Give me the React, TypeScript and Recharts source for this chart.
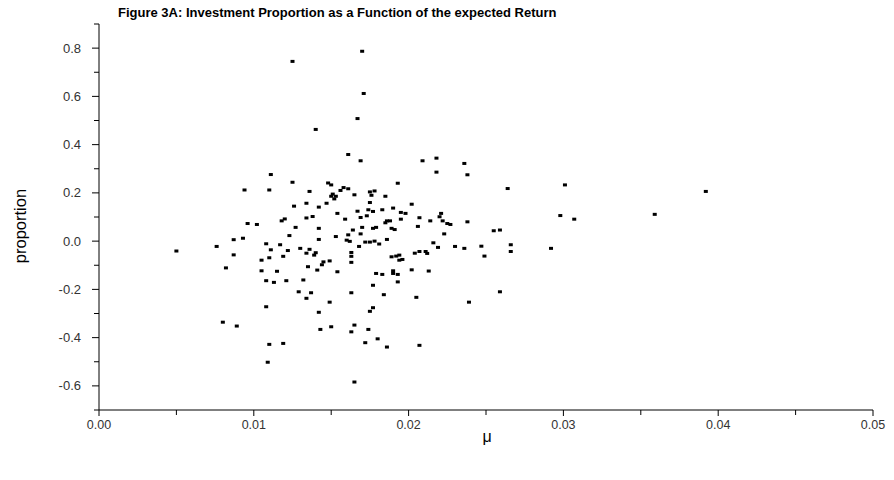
import { ScatterChart, Scatter, XAxis, YAxis } from 'recharts'

// expected return (mu) of each asset
const muValues = [
  0.0125, 0.0140, 0.0170, 0.0171, 0.0167, 0.0161, 0.0169, 0.0111, 0.0125, 0.0094,
  0.0110, 0.0136, 0.0134, 0.0126, 0.0134, 0.0096, 0.0102, 0.0118, 0.0120, 0.0127,
  0.0123, 0.0087, 0.0093, 0.0076, 0.0108, 0.0117, 0.0111, 0.0122, 0.0130, 0.0134,
  0.0136, 0.0087, 0.0110, 0.0119, 0.0105, 0.0082, 0.0135, 0.0105, 0.0115, 0.0108,
  0.0113, 0.0121, 0.0132, 0.0129, 0.0134, 0.0108, 0.0080, 0.0089, 0.0110, 0.0119,
  0.0109, 0.0143, 0.0150, 0.0165, 0.0163, 0.0174, 0.0180, 0.0172, 0.0186, 0.0207,
  0.0165, 0.0050,
  0.0148, 0.0150, 0.0158, 0.0161, 0.0156, 0.0193, 0.0175, 0.0178, 0.0165, 0.0185,
  0.0176, 0.0151, 0.0150, 0.0153, 0.0152, 0.0147, 0.0175, 0.0202, 0.0142, 0.0154,
  0.0167, 0.0174, 0.0177, 0.0183, 0.0190, 0.0195, 0.0198, 0.0138, 0.0159, 0.0169,
  0.0173, 0.0195, 0.0186, 0.0188, 0.0185, 0.0142, 0.0164, 0.0170, 0.0177, 0.0179,
  0.0189, 0.0191, 0.0206, 0.0207, 0.0153, 0.0161, 0.0169, 0.0142,
  0.0160, 0.0162, 0.0172, 0.0175, 0.0178, 0.0181, 0.0186, 0.0168, 0.0140, 0.0139,
  0.0163, 0.0163, 0.0145, 0.0149, 0.0144, 0.0163, 0.0141, 0.0154, 0.0189, 0.0192,
  0.0194, 0.0194, 0.0196, 0.0204, 0.0207, 0.0179, 0.0183, 0.0190, 0.0190, 0.0193,
  0.0202, 0.0193, 0.0177, 0.0137, 0.0163, 0.0184, 0.0205, 0.0149, 0.0177, 0.0175,
  0.0142,
  0.0209, 0.0218, 0.0236, 0.0218, 0.0238, 0.0264, 0.0221, 0.0220, 0.0214, 0.0222,
  0.0225, 0.0227, 0.0238, 0.0223, 0.0255, 0.0259, 0.0298, 0.0301, 0.0392, 0.0359,
  0.0307, 0.0247, 0.0266, 0.0266, 0.0292, 0.0249, 0.0259, 0.0216, 0.0219, 0.0211,
  0.0212, 0.0230, 0.0236, 0.0213, 0.0239,
]

// investment proportion, same order as muValues
const proportionValues = [
  0.745, 0.463, 0.787, 0.612, 0.508, 0.359, 0.333, 0.276, 0.244, 0.212,
  0.212, 0.206, 0.157, 0.145, 0.096, 0.073, 0.069, 0.084, 0.092, 0.057,
  0.023, 0.006, 0.012, -0.022, -0.011, -0.015, -0.036, -0.039, -0.030, -0.050,
  -0.034, -0.057, -0.069, -0.063, -0.079, -0.111, -0.106, -0.123, -0.125, -0.164,
  -0.171, -0.164, -0.161, -0.210, -0.237, -0.272, -0.336, -0.352, -0.428, -0.424,
  -0.502, -0.366, -0.355, -0.348, -0.376, -0.366, -0.405, -0.421, -0.439, -0.432,
  -0.584, -0.041,
  0.241, 0.233, 0.222, 0.217, 0.210, 0.240, 0.204, 0.208, 0.192, 0.186,
  0.190, 0.195, 0.186, 0.186, 0.175, 0.157, 0.160, 0.153, 0.141, 0.115,
  0.124, 0.130, 0.123, 0.130, 0.137, 0.119, 0.115, 0.102, 0.091, 0.098,
  0.105, 0.091, 0.084, 0.084, 0.076, 0.053, 0.046, 0.057, 0.053, 0.057,
  0.053, 0.048, 0.061, 0.097, 0.019, 0.026, 0.030, 0.007,
  0.004, -0.001, -0.004, -0.004, 0.000, -0.012, 0.007, -0.022, -0.048, -0.058,
  -0.047, -0.063, -0.086, -0.082, -0.098, -0.088, -0.120, -0.127, -0.065, -0.062,
  -0.058, -0.079, -0.076, -0.050, -0.043, -0.134, -0.138, -0.123, -0.134, -0.138,
  -0.119, -0.169, -0.183, -0.214, -0.214, -0.222, -0.233, -0.253, -0.276, -0.291,
  -0.295,
  0.333, 0.344, 0.322, 0.286, 0.275, 0.218, 0.115, 0.101, 0.084, 0.084,
  0.073, 0.069, 0.080, 0.030, 0.043, 0.046, 0.106, 0.233, 0.206, 0.111,
  0.091, -0.021, -0.015, -0.043, -0.030, -0.062, -0.210, -0.007, -0.026, -0.043,
  -0.051, -0.022, -0.030, -0.124, -0.253,
]

const xMajorTicks = [0, 0.01, 0.02, 0.03, 0.04, 0.05]
const xMinorTicks = [0.005, 0.015, 0.025, 0.035, 0.045]
const yMajorTicks = [-0.6, -0.4, -0.2, 0, 0.2, 0.4, 0.6, 0.8]
const yMinorTicks = [-0.7, -0.5, -0.3, -0.1, 0.1, 0.3, 0.5, 0.7, 0.9]

const points = muValues.map((mu, i) => ({ mu, proportion: proportionValues[i] }))

const FONT = '"Liberation Sans", Arial, sans-serif'

const XTick = (props: any) => {
  const { x, y, payload } = props
  const major = xMajorTicks.includes(payload.value)
  return (
    <g>
      <line x1={x} y1={y} x2={x} y2={y + (major ? 6 : 5)} stroke="#000" />
      {major && (
        <text x={x} y={y + 19} textAnchor="middle" fontSize={12.5} fill="#333" fontFamily={FONT}>
          {payload.value.toFixed(2)}
        </text>
      )}
    </g>
  )
}

const YTick = (props: any) => {
  const { x, y, payload } = props
  const major = yMajorTicks.includes(payload.value)
  return (
    <g>
      <line x1={x} y1={y} x2={x - (major ? 7 : 5)} y2={y} stroke="#000" />
      {major && (
        <text x={x - 18} y={y + 4.5} textAnchor="end" fontSize={13} fill="#333" fontFamily={FONT}>
          {payload.value.toFixed(1)}
        </text>
      )}
    </g>
  )
}

const Dot = (props: any) => {
  const { cx, cy } = props
  return <rect x={cx - 2} y={cy - 1.5} width={4} height={3} fill="#000" />
}

export default function App() {
  return (
    <div style={{ position: 'relative', width: 878, height: 464, fontFamily: FONT }}>
      <div style={{ position: 'absolute', left: 110, top: -3, fontSize: 13, fontWeight: 'bold', color: '#000' }}>
        Figure 3A: Investment Proportion as a Function of the expected Return
      </div>
      <div
        style={{
          position: 'absolute',
          left: 12,
          top: 218,
          fontSize: 16.5,
          transform: 'translate(-50%, -50%) rotate(-90deg)',
          whiteSpace: 'nowrap',
        }}
      >
        proportion
      </div>
      <div style={{ position: 'absolute', left: 479, top: 420, fontSize: 16, transform: 'translateX(-50%)' }}>μ</div>
      <ScatterChart width={878} height={464} margin={{ top: 16, right: 13, left: 0, bottom: 0 }}>
        <XAxis
          type="number"
          dataKey="mu"
          domain={[0, 0.05]}
          ticks={[...xMajorTicks, ...xMinorTicks].sort((a, b) => a - b)}
          interval={0}
          tickSize={0}
          tickMargin={0}
          tickLine={false}
          tick={<XTick />}
          axisLine={{ stroke: '#000' }}
          height={62}
          allowDataOverflow
        />
        <YAxis
          type="number"
          dataKey="proportion"
          domain={[-0.7, 0.9]}
          ticks={[...yMajorTicks, ...yMinorTicks].sort((a, b) => a - b)}
          interval={0}
          tickSize={0}
          tickMargin={0}
          tickLine={false}
          tick={<YTick />}
          axisLine={{ stroke: '#000' }}
          width={91}
          allowDataOverflow
        />
        <Scatter data={points} fill="#000" shape={<Dot />} isAnimationActive={false} />
      </ScatterChart>
    </div>
  )
}
